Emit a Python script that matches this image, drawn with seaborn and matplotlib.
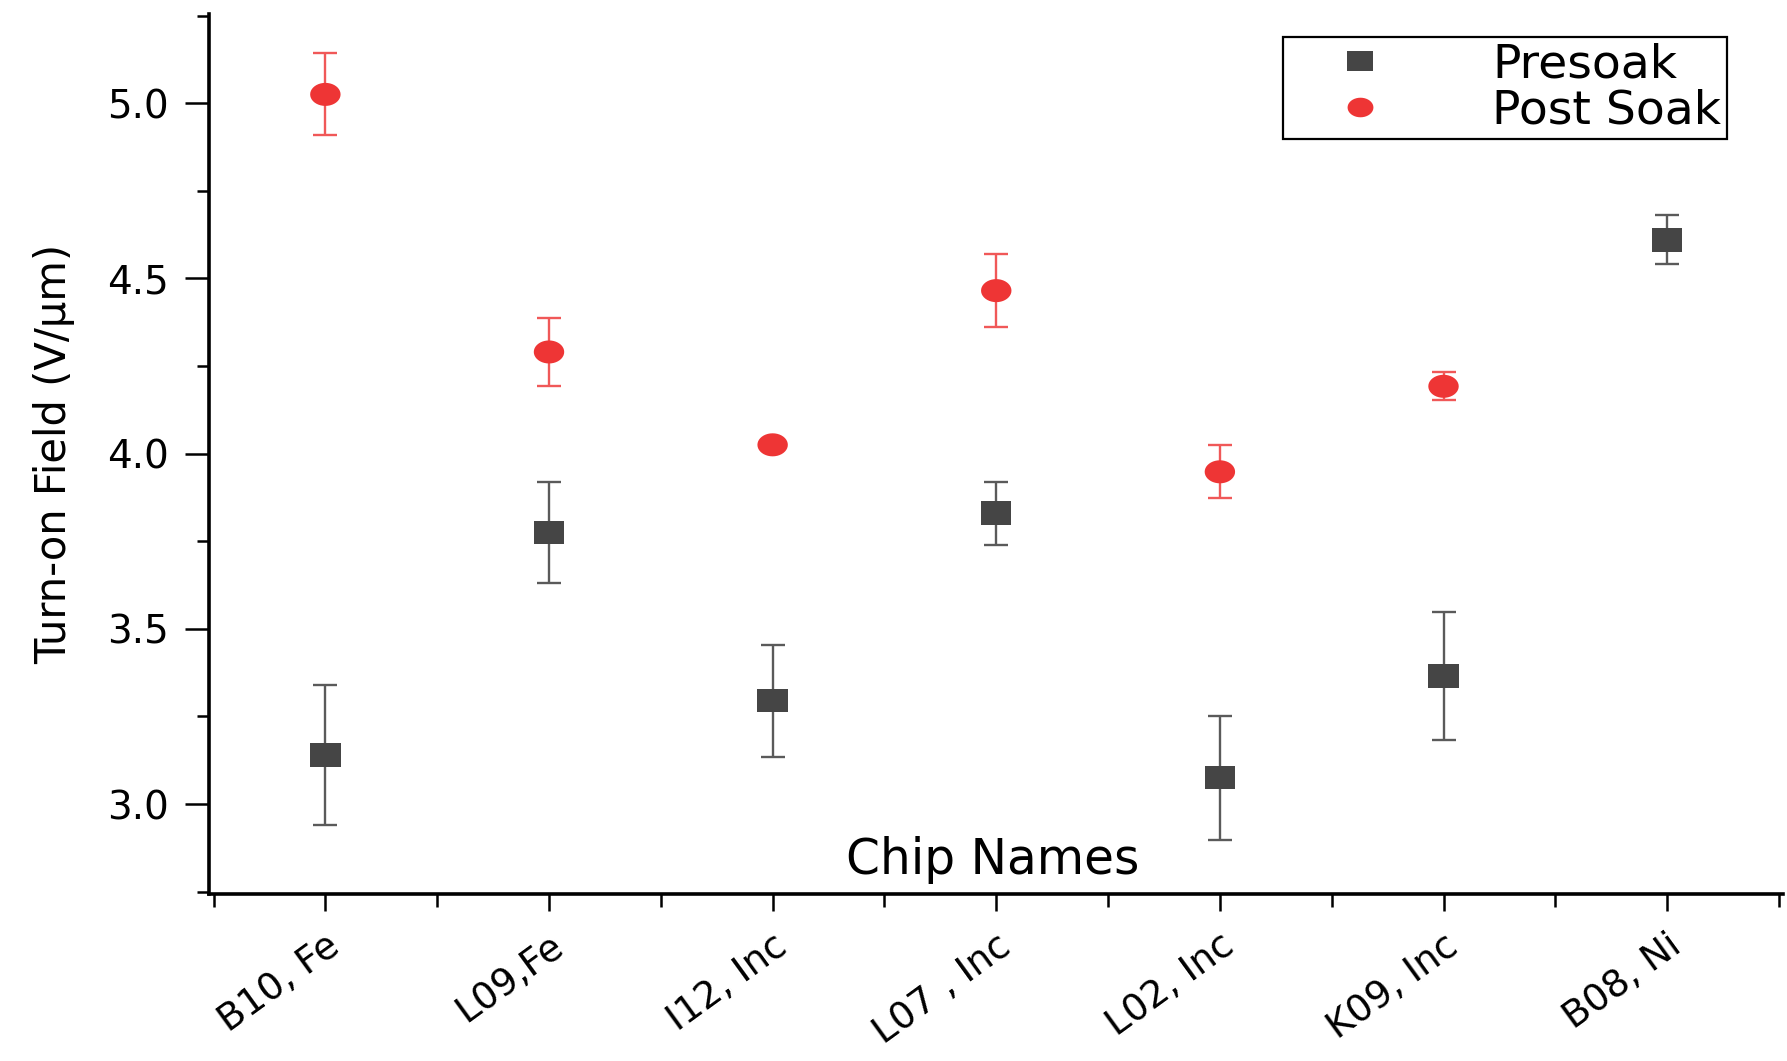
import numpy as np
import pandas as pd
import matplotlib
matplotlib.use("Agg")
import matplotlib.pyplot as plt
import matplotlib.transforms as mtransforms
from matplotlib.path import Path
from matplotlib.ticker import MultipleLocator
import seaborn as sns

chips = ["B10, Fe", "L09,Fe", "I12, Inc", "L07 , Inc", "L02, Inc", "K09, Inc", "B08, Ni"]
presoak = [3.14, 3.775, 3.295, 3.83, 3.075, 3.365, 4.61]
presoak_err = [0.20, 0.145, 0.16, 0.09, 0.177, 0.183, 0.07]
postsoak = [5.025, 4.29, 4.025, 4.465, 3.948, 4.192, np.nan]
postsoak_err = [0.117, 0.096, 0.012, 0.104, 0.076, 0.04, np.nan]

pre_color = "#454545"
pre_err_color = "#5a5a5a"
post_color = "#ee3535"
post_err_color = "#f05858"

sns.set_style("ticks")
plt.rcParams["font.family"] = ["DejaVu Sans"]
plt.rcParams["text.color"] = "black"
plt.rcParams["axes.labelcolor"] = "black"
plt.rcParams["xtick.color"] = "black"
plt.rcParams["ytick.color"] = "black"

# the original figure looks stretched sideways, so use wide markers
t = np.linspace(0, 2 * np.pi, 41)
ellipse = Path(np.column_stack([1.32 * np.cos(t), np.sin(t)]), closed=True)
rect = Path([(-1.3, -1), (1.3, -1), (1.3, 1), (-1.3, 1), (-1.3, -1)], closed=True)

pos = np.arange(len(chips))
df = pd.DataFrame({
    "pos": np.concatenate([pos, pos]),
    "value": presoak + postsoak,
    "Series": ["Presoak"] * len(chips) + ["Post Soak"] * len(chips),
}).dropna()

fig = plt.figure(figsize=(17.87, 10.61), dpi=100)
ax = fig.add_axes([0.117, 0.157, 0.881, 0.830])

# error bars first so markers sit on top
ax.errorbar(pos, presoak, yerr=presoak_err, fmt="none", ecolor=pre_err_color,
            elinewidth=1.7, capsize=8.5, capthick=1.7, zorder=2)
ax.errorbar(pos, postsoak, yerr=postsoak_err, fmt="none", ecolor=post_err_color,
            elinewidth=1.7, capsize=8.5, capthick=1.7, zorder=2)

sns.scatterplot(
    data=df, x="pos", y="value",
    hue="Series", style="Series",
    hue_order=["Presoak", "Post Soak"], style_order=["Presoak", "Post Soak"],
    palette={"Presoak": pre_color, "Post Soak": post_color},
    markers={"Presoak": rect, "Post Soak": ellipse},
    s=480, edgecolor="none", linewidth=0, zorder=3, ax=ax,
)

handles, labels = ax.get_legend_handles_labels()
ax.get_legend().remove()
leg = ax.legend(handles, labels, loc="upper right", bbox_to_anchor=(0.964, 0.974),
                fontsize=34, frameon=True, fancybox=False, edgecolor="black",
                framealpha=1, handletextpad=1.3, handlelength=3.0, borderpad=0.12,
                labelspacing=0.02, borderaxespad=0, markerscale=0.85)
leg.get_frame().set_linewidth(1.6)

ax.set_xlim(-0.52, 6.52)
ax.set_ylim(2.742, 5.255)
ax.set_xticks(pos)
ax.set_xticklabels(chips, rotation=36, ha="right", va="top", rotation_mode="anchor", fontsize=27)
ax.xaxis.set_minor_locator(MultipleLocator(0.5))
ax.set_yticks([3.0, 3.5, 4.0, 4.5, 5.0])
ax.set_yticklabels(["3.0", "3.5", "4.0", "4.5", "5.0"], fontsize=28)
ax.yaxis.set_minor_locator(MultipleLocator(0.25))

offset = mtransforms.ScaledTranslation(0.45, 0, fig.dpi_scale_trans)
for lbl in ax.get_xticklabels():
    lbl.set_transform(lbl.get_transform() + offset)

ax.tick_params(axis="y", which="major", length=17, width=1.8, pad=12, direction="out")
ax.tick_params(axis="y", which="minor", length=9, width=1.8, direction="out")
ax.tick_params(axis="x", which="major", length=12, width=1.8, pad=12, direction="out")
ax.tick_params(axis="x", which="minor", length=9, width=1.8, direction="out")

for side in ["top", "right"]:
    ax.spines[side].set_visible(False)
for side in ["left", "bottom"]:
    ax.spines[side].set_linewidth(2.6)
    ax.spines[side].set_color("black")

ax.set_ylabel("Turn-on Field (V/\u03bcm)", fontsize=30)
ax.yaxis.set_label_coords(-0.085, 0.5)
ax.set_xlabel("Chip Names", fontsize=35)
ax.xaxis.set_label_coords(0.498, 0.066)

fig.savefig("out.png", dpi=100)
